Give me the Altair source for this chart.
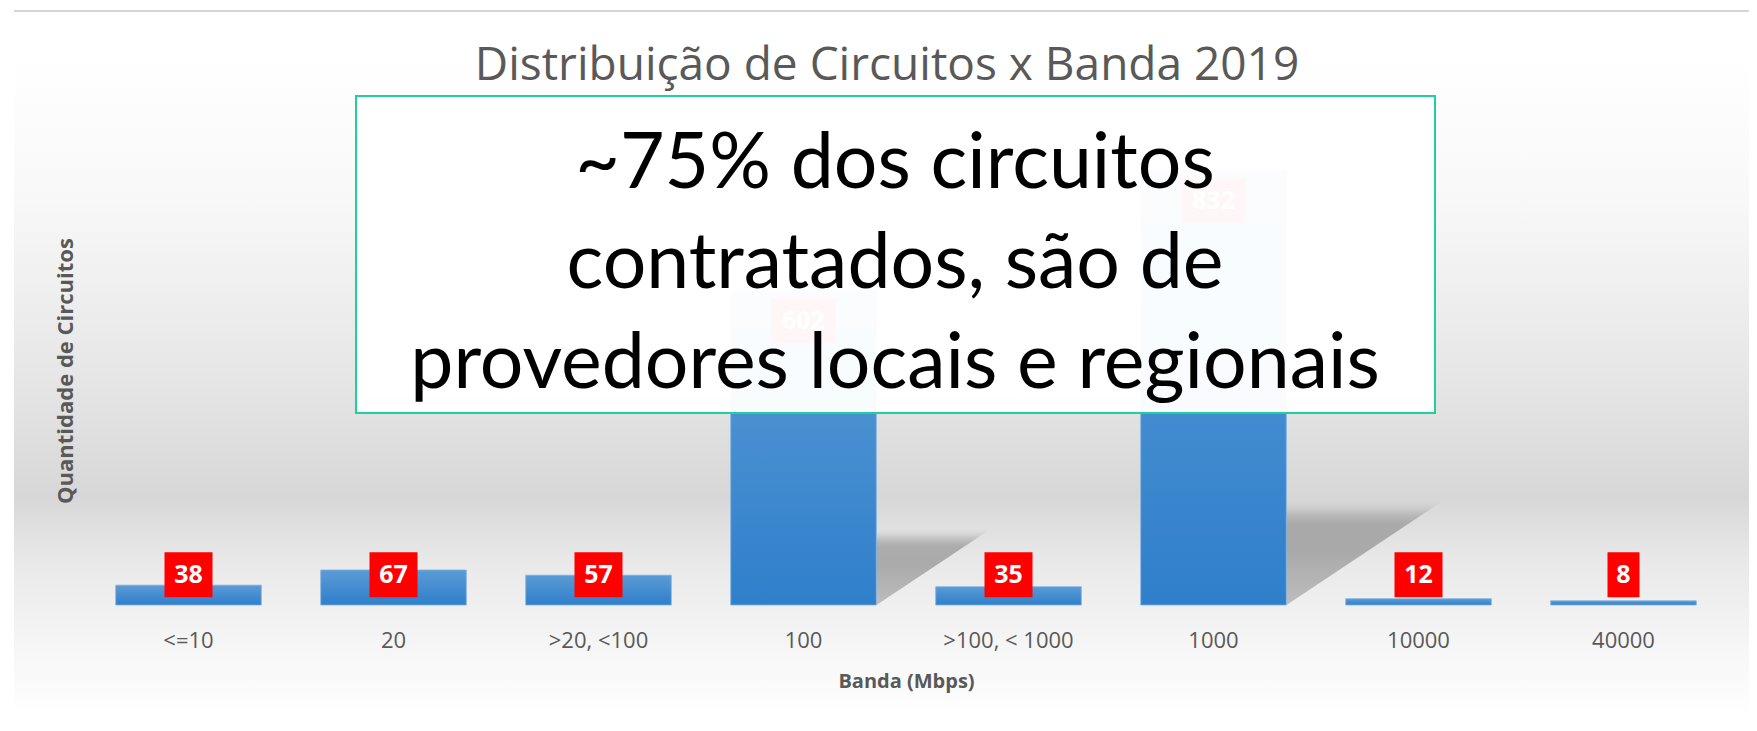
import altair as alt
import pandas as pd

# ---- data ----
categories = ["<=10", "20", ">20, <100", "100", ">100, < 1000", "1000", "10000", "40000"]
values = [38, 67, 57, 602, 35, 832, 12, 8]

title_text = "Distribuição de Circuitos x Banda 2019"
x_title = "Banda (Mbps)"
y_title = "Quantidade de Circuitos"
callout_lines = ["~75% dos circuitos", "contratados, são de", "provedores locais e regionais"]

df = pd.DataFrame({"banda": categories, "qtd": values})
one = pd.DataFrame({"k": [0]})

W, H = 1640, 470
YMAX = 900
GREY = "#595959"

xscale = alt.Scale(domain=categories, paddingInner=0.29, paddingOuter=0.145)
yscale = alt.Scale(domain=[0, YMAX], nice=False, zero=True)

xaxis = alt.Axis(
    title=x_title, titleFont="Open Sans", titleFontWeight="bold", titleFontSize=20,
    titleColor=GREY, titleY=76, titleBaseline="middle",
    labelFont="Open Sans", labelFontSize=22, labelColor=GREY, labelAngle=0,
    labelPadding=35, labelBaseline="middle", ticks=False, tickSize=0, domain=False,
    grid=False, zindex=1,
)
x_enc = alt.X("banda:N", scale=xscale, sort=categories, axis=xaxis)

# background gradient panel
bg = alt.Chart(one).mark_rect(
    fill=alt.LinearGradient(
        gradient="linear", x1=0, x2=0, y1=0, y2=1,
        stops=[
            alt.GradientStop(offset=0.0, color="#ffffff"),
            alt.GradientStop(offset=0.22, color="#f8f8f8"),
            alt.GradientStop(offset=0.49, color="#e6e6e6"),
            alt.GradientStop(offset=0.67, color="#d7d7d7"),
            alt.GradientStop(offset=0.77, color="#e9e9e9"),
            alt.GradientStop(offset=0.90, color="#f6f6f6"),
            alt.GradientStop(offset=1.0, color="#fefefe"),
        ],
    )
).encode(x=alt.value(-72), x2=alt.value(1680), y=alt.value(-78), y2=alt.value(578))

ruler = alt.Chart(one).mark_rule(color="#d6d6d6", strokeWidth=2).encode(
    x=alt.value(-72), x2=alt.value(1680), y=alt.value(-124)
)

base = alt.Chart(df)

shadow_fill = alt.LinearGradient(
    gradient="linear", x1=0, x2=0, y1=0, y2=1,
    stops=[
        alt.GradientStop(offset=0.0, color="rgba(130,130,130,0)"),
        alt.GradientStop(offset=0.18, color="rgba(130,130,130,0.55)"),
        alt.GradientStop(offset=0.45, color="rgba(130,130,130,0.6)"),
        alt.GradientStop(offset=1.0, color="rgba(130,130,130,0.4)"),
    ],
)

# soft perspective shadows of the tall bars (stacked translucent triangles)
shadow_layers = []
for k in (0.95, 1.0, 1.05):
    shadow_layers.append(
        base.transform_filter("datum.qtd > 300").transform_calculate(
            sz=f"pow(2 * {k} * datum.qtd * 0.232 * {H} / {YMAX}, 2)"
        ).mark_point(
            shape="M0,0 L0,-1 L1.5,-1 Z",
            filled=True,
            xOffset=73,
            strokeWidth=0,
            fill=shadow_fill,
            opacity=0.45,
        ).encode(
            x=x_enc,
            y=alt.value(H),
            size=alt.Size("sz:Q", scale=None, legend=None),
        )
    )

bars = base.mark_bar(
    fill=alt.LinearGradient(
        gradient="linear", x1=0, x2=0, y1=0, y2=1,
        stops=[
            alt.GradientStop(offset=0.0, color="#5b9bd5"),
            alt.GradientStop(offset=1.0, color="#2f7fcb"),
        ],
    ),
    stroke="#7fb0de", strokeWidth=0.8,
).encode(
    x=x_enc,
    y=alt.Y("qtd:Q", scale=yscale, axis=None),
)

lab = base.transform_calculate(
    ly="max(datum.qtd - 58, 58)",
    ly0="max(datum.qtd - 58, 58) - 43",
    ly1="max(datum.qtd - 58, 58) + 43",
    bw="16 + 16 * length(toString(datum.qtd))",
)
lab_box = lab.mark_bar(color="#ff0000").encode(
    x=x_enc,
    y=alt.Y("ly0:Q", scale=yscale, axis=None),
    y2="ly1:Q",
    size=alt.Size("bw:Q", scale=None, legend=None),
)
lab_txt = lab.mark_text(
    color="white", font="Open Sans", fontWeight="bold", fontSize=25, baseline="middle"
).encode(
    x=x_enc,
    y=alt.Y("ly:Q", scale=yscale, axis=None),
    text="qtd:Q",
)

callout_box = alt.Chart(one).mark_rect(
    fill="white", fillOpacity=0.97, stroke="#1fcf9e", strokeWidth=2
).encode(x=alt.value(270), x2=alt.value(1349), y=alt.value(-39), y2=alt.value(278))

callout_txt = alt.Chart(one).mark_text(
    font="Lato", fontSize=77, color="black", align="center", baseline="alphabetic", lineHeight=100
).encode(x=alt.value(809), y=alt.value(53), text=alt.value(callout_lines))

title = alt.Chart(one).mark_text(
    font="Open Sans", fontSize=46, color=GREY, align="center", baseline="alphabetic"
).encode(x=alt.value(801), y=alt.value(-55), text=alt.value(title_text))

ytitle = alt.Chart(one).mark_text(
    font="Open Sans", fontSize=22, fontWeight="bold", color=GREY, align="center",
    baseline="middle", angle=270
).encode(x=alt.value(-20), y=alt.value(236), text=alt.value(y_title))

chart = alt.layer(
    bg, ruler, *shadow_layers, bars, lab_box, lab_txt, callout_box, callout_txt, title, ytitle
).properties(
    width=W, height=H,
    padding={"left": 78, "top": 127, "right": 23, "bottom": 110},
    autosize=alt.AutoSizeParams(type="none"),
    background="white",
).configure_view(stroke=None)

chart.save("out.html", embed_options={"renderer": "svg", "actions": False})
